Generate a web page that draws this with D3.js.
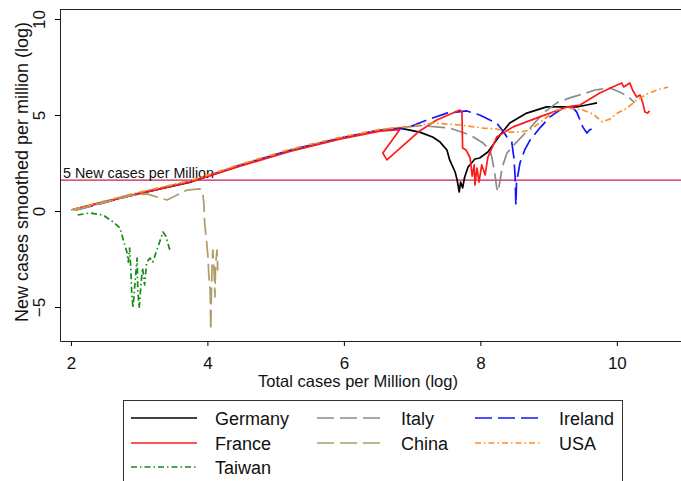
<!DOCTYPE html>
<html>
<head>
<meta charset="utf-8">
<script src="https://cdn.jsdelivr.net/npm/d3@7"></script>
<style>
  body { margin: 0; background: #fff; }
  svg { display: block; font-family: "Liberation Sans", Arial, sans-serif; }
</style>
</head>
<body>
<div id="chart"></div>
<script>
// values: [total cases per million (log), new cases smoothed per million (log)]
const germany = [[2.03,0.08],[2.86,0.80],[3.77,1.52],[4.48,2.37],[5.21,3.15],[5.94,3.78],[6.53,4.20],[6.82,4.32],
  [7.11,4.11],[7.30,3.85],[7.41,3.59],[7.51,3.18],[7.55,2.66],[7.63,2.03],[7.66,1.61],[7.69,0.99],[7.71,1.51],
  [7.74,1.20],[7.77,1.77],[7.82,2.29],[7.92,2.71],[7.99,2.76],[8.11,3.07],[8.29,3.96],[8.43,4.58],[8.68,5.10],
  [8.97,5.42],[9.21,5.42],[9.41,5.42],[9.56,5.52],[9.71,5.63]];
const italy = [[2.00,0.05],[2.86,0.84],[3.77,1.57],[4.48,2.40],[5.21,3.17],[5.94,3.80],[6.53,4.22],[7.11,4.45],
  [7.55,4.32],[7.85,3.96],[8.04,3.54],[8.14,3.18],[8.17,2.76],[8.21,1.98],[8.24,1.20],[8.26,1.00],[8.29,1.61],
  [8.32,2.29],[8.39,3.02],[8.53,3.59],[8.73,4.32],[8.92,5.10],[9.12,5.63],[9.31,5.89],[9.50,6.09],[9.68,6.30],
  [9.90,6.41],[10.04,6.20],[10.15,5.99],[10.22,5.78],[10.26,5.63]];
const ireland = [[2.08,0.06],[2.86,0.78],[3.77,1.55],[4.48,2.38],[5.21,3.16],[5.94,3.79],[6.53,4.21],[6.92,4.32],
  [7.22,4.74],[7.51,5.10],[7.80,5.21],[7.99,5.00],[8.14,4.74],[8.24,4.58],[8.32,4.22],[8.39,3.85],[8.46,3.59],
  [8.49,2.81],[8.51,1.77],[8.52,0.31],[8.53,1.46],[8.58,2.50],[8.65,3.18],[8.73,3.70],[8.87,4.32],[9.02,4.90],
  [9.21,5.36],[9.36,5.36],[9.41,5.16],[9.46,4.74],[9.50,4.38],[9.56,4.06],[9.60,4.22],[9.63,4.27]];
const france = [[2.10,0.12],[2.86,0.78],[3.77,1.54],[4.48,2.34],[5.21,3.10],[5.94,3.74],[6.53,4.16],[6.82,4.24],
  [6.57,3.02],[6.63,2.66],[7.11,4.17],[7.36,4.74],[7.70,5.26],[7.73,5.16],[7.74,3.28],[7.79,3.18],[7.85,2.76],
  [7.88,1.82],[7.91,2.40],[7.92,1.35],[7.95,2.24],[7.98,1.51],[8.02,2.40],[8.07,1.88],[8.11,2.81],[8.24,3.85],
  [8.48,4.38],[8.87,4.90],[9.27,5.42],[9.46,5.52],[9.75,6.15],[9.94,6.46],[10.07,6.67],[10.10,6.46],[10.19,6.67],
  [10.23,6.30],[10.29,5.94],[10.34,6.04],[10.38,5.63],[10.41,5.16],[10.45,5.10],[10.48,5.21]];
const china = [[2.05,0.03],[2.50,0.45],[2.86,0.80],[3.11,0.89],[3.41,0.57],[3.70,1.09],[3.89,1.15],[3.93,0.99],
  [3.95,0.31],[3.96,-0.63],[3.99,-1.67],[4.01,-2.45],[4.02,-3.33],[4.04,-4.11],[4.05,-6.20],[4.06,-4.00],
  [4.07,-2.66],[4.08,-2.03],[4.10,-3.33],[4.11,-4.48],[4.12,-2.81],[4.14,-2.03],[4.15,-3.07],[4.15,-2.55]];
const usa = [[2.05,0.10],[2.86,0.86],[3.77,1.60],[4.48,2.43],[5.21,3.21],[5.94,3.84],[6.53,4.25],[7.11,4.47],
  [7.30,4.58],[7.70,4.48],[8.04,4.32],[8.24,4.27],[8.43,4.11],[8.58,4.11],[8.73,4.22],[8.92,4.74],[9.12,5.26],
  [9.31,5.36],[9.50,5.26],[9.65,5.05],[9.79,4.64],[9.90,4.79],[10.01,5.10],[10.15,5.36],[10.29,5.78],
  [10.44,6.09],[10.59,6.30],[10.75,6.46]];
const taiwan = [[2.10,-0.21],[2.28,-0.10],[2.47,-0.21],[2.62,-0.57],[2.72,-0.89],[2.76,-1.41],[2.82,-2.14],
  [2.84,-2.66],[2.86,-1.93],[2.88,-3.18],[2.89,-4.22],[2.91,-5.05],[2.94,-3.70],[2.97,-2.45],[2.98,-4.11],
  [3.00,-5.05],[3.03,-3.70],[3.05,-2.97],[3.08,-3.85],[3.11,-2.66],[3.16,-2.45],[3.20,-2.66],[3.26,-2.03],
  [3.30,-1.61],[3.35,-1.09],[3.39,-1.30],[3.42,-1.67],[3.45,-2.03]];

const xTicks = [2, 4, 6, 8, 10];
const yTicks = [-5, 0, 5, 10];
const threshold = Math.log(5);

const series = [
  { name: "Germany", data: germany, color: "#000000", dash: null },
  { name: "Italy",   data: italy,   color: "#8c8c8c", dash: "17 6" },
  { name: "Ireland", data: ireland, color: "#1414ff", dash: "17 6" },
  { name: "France",  data: france,  color: "#ff1a1a", dash: null },
  { name: "China",   data: china,   color: "#ad9d6b", dash: "17 6" },
  { name: "USA",     data: usa,     color: "#ff8c26", dash: "6 3 1.5 3" },
  { name: "Taiwan",  data: taiwan,  color: "#148c14", dash: "6 3 1.5 3" }
];

const W = 681, H = 481;
const plot = { left: 60, right: 681, top: 9, bottom: 341 };

const svg = d3.select("#chart").append("svg")
  .attr("width", W).attr("height", H);

const x = d3.scaleLinear().domain([1.84, 10.94]).range([plot.left, plot.right]);
const y = d3.scaleLinear().domain([-6.77, 10.52]).range([plot.bottom, plot.top]);

svg.append("defs").append("clipPath").attr("id", "clip")
  .append("rect").attr("x", plot.left).attr("y", plot.top)
  .attr("width", plot.right - plot.left).attr("height", plot.bottom - plot.top);

// top border
svg.append("line")
  .attr("x1", plot.left).attr("x2", plot.right)
  .attr("y1", plot.top + 0.5).attr("y2", plot.top + 0.5)
  .attr("stroke", "#222").attr("stroke-width", 1);

// threshold line
svg.append("line")
  .attr("x1", plot.left).attr("x2", plot.right)
  .attr("y1", y(threshold)).attr("y2", y(threshold))
  .attr("stroke", "#cc1f4a").attr("stroke-width", 1.4);

svg.append("text")
  .attr("x", 63).attr("y", y(threshold) - 2.5)
  .attr("font-size", "14.3px").attr("fill", "#111")
  .text("5 New cases per Million");

const line = d3.line().x(d => x(d[0])).y(d => y(d[1]));

const g = svg.append("g").attr("clip-path", "url(#clip)");
series.forEach(s => {
  g.append("path")
    .datum(s.data)
    .attr("fill", "none")
    .attr("stroke", s.color)
    .attr("stroke-width", 1.7)
    .attr("stroke-linejoin", "round")
    .attr("stroke-dasharray", s.dash)
    .attr("d", line);
});

// axes
const xAxis = svg.append("g")
  .attr("transform", `translate(0,${plot.bottom})`)
  .call(d3.axisBottom(x).tickValues(xTicks).tickSize(5).tickSizeOuter(0).tickFormat(d3.format("d")));
xAxis.select(".domain").attr("stroke", "#222");
xAxis.selectAll("text").attr("font-size", "17px").attr("fill", "#111").attr("y", 16);

const yAxis = svg.append("g")
  .attr("transform", `translate(${plot.left},0)`)
  .call(d3.axisLeft(y).tickValues(yTicks).tickSize(5).tickSizeOuter(0).tickFormat(d3.format("d")));
yAxis.select(".domain").attr("stroke", "#222");
yAxis.selectAll("text")
  .attr("font-size", "17px").attr("fill", "#111")
  .attr("transform", "rotate(-90)")
  .attr("text-anchor", "middle")
  .attr("x", 0).attr("y", -15).attr("dy", 0);

svg.append("text")
  .attr("x", 358).attr("y", 387)
  .attr("text-anchor", "middle").attr("font-size", "16.5px").attr("fill", "#111")
  .text("Total cases per Million (log)");

svg.append("text")
  .attr("transform", `translate(28,172) rotate(-90)`)
  .attr("text-anchor", "middle").attr("font-size", "18px").attr("fill", "#111")
  .text("New cases smoothed per million (log)");

// legend
const legendOrder = ["Germany", "Italy", "Ireland", "France", "China", "USA", "Taiwan"];
const colX = [131, 317, 475];
const rowY = [418, 443, 467];

svg.append("rect")
  .attr("x", 123.5).attr("y", 400.5).attr("width", 499).attr("height", 120)
  .attr("fill", "none").attr("stroke", "#333").attr("stroke-width", 1);

legendOrder.forEach((name, i) => {
  const s = series.find(d => d.name === name);
  const cx = colX[i % 3], cy = rowY[Math.floor(i / 3)];
  svg.append("line")
    .attr("x1", cx).attr("x2", cx + 66).attr("y1", cy).attr("y2", cy)
    .attr("stroke", s.color).attr("stroke-width", 1.7)
    .attr("stroke-dasharray", s.dash);
  svg.append("text")
    .attr("x", cx + 84).attr("y", cy + 6.5)
    .attr("font-size", "18px").attr("fill", "#111")
    .text(name);
});
</script>
</body>
</html>
